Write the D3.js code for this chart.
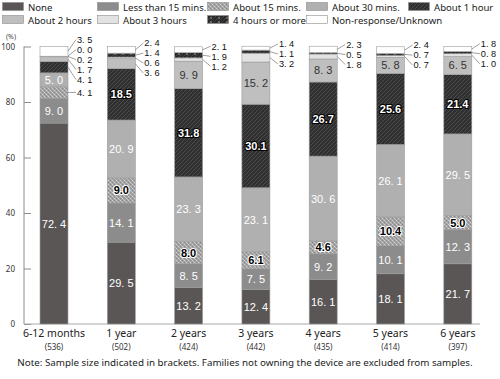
<!DOCTYPE html>
<html><head><meta charset="utf-8">
<script src="https://cdn.jsdelivr.net/npm/d3@7"></script>
<style>
html,body{margin:0;padding:0;background:#fff;}
svg{display:block;}
</style></head>
<body>
<svg id="chart" width="500" height="379"></svg>
<script>
const categories = ["6-12 months","1 year","2 years","3 years","4 years","5 years","6 years"];
const sampleSizes = ["536","502","424","442","435","414","397"];
const seriesNames = ["None","Less than 15 mins.","About 15 mins.","About 30 mins.","About 1 hour","About 2 hours","About 3 hours","4 hours or more","Non-response/Unknown"];
const noneVals   = [72.4,29.5,13.2,12.4,16.1,18.1,21.7];
const lt15Vals   = [9.0,14.1,8.5,7.5,9.2,10.1,12.3];
const m15Vals    = [4.1,9.0,8.0,6.1,4.6,10.4,5.0];
const m30Vals    = [5.0,20.9,23.3,23.1,30.6,26.1,29.5];
const h1Vals     = [4.1,18.5,31.8,30.1,26.7,25.6,21.4];
const h2Vals     = [1.7,3.6,9.9,15.2,8.3,5.8,6.5];
const h3Vals     = [0.2,0.6,1.2,3.2,1.8,0.7,1.0];
const h4Vals     = [0.0,1.4,1.9,1.1,0.5,0.7,0.8];
const nrVals     = [3.5,2.4,2.1,1.4,2.3,2.4,1.8];
const yTicks = [0,20,40,60,80,100];

const seriesVals = [noneVals,lt15Vals,m15Vals,m30Vals,h1Vals,h2Vals,h3Vals,h4Vals,nrVals];
const keys = seriesNames;
const rows = categories.map((c,i)=>{const r={cat:c}; keys.forEach((k,j)=>r[k]=seriesVals[j][i]); return r;});

const svg = d3.select("#chart");
const defs = svg.append("defs");

function pat(id,w,h,bg,draw){
  const p = defs.append("pattern").attr("id",id).attr("patternUnits","userSpaceOnUse").attr("width",w).attr("height",h);
  p.append("rect").attr("width",w).attr("height",h).attr("fill",bg);
  draw(p); return "url(#"+id+")";
}
const fDots = pat("dots",4,4,"#a2a2a2",p=>{
  [[0,0,"#d2d2d2"],[2,2,"#d2d2d2"],[2,0,"#8a8a8a"],[0,2,"#8a8a8a"],[1,1,"#bcbcbc"],[3,3,"#bcbcbc"]].forEach(([x,y,c])=>p.append("rect").attr("x",x).attr("y",y).attr("width",1).attr("height",1).attr("fill",c));
});
const fHatch = pat("hatch",4,4,"#303030",p=>{
  p.append("path").attr("d","M-1,1 L1,-1 M0,4 L4,0 M3,5 L5,3").attr("stroke","#525252").attr("stroke-width",0.8);
});
const f4h = pat("h4",8,4,"#2a2a2a",p=>{
  p.append("path").attr("d","M0,4 L4,0 M4,4 L8,0").attr("stroke","#444").attr("stroke-width",1);
  p.append("rect").attr("x",2).attr("y",1).attr("width",2).attr("height",2).attr("fill","#666");
});
const fills = ["#5a5656","#8c8c8c",fDots,"#b0b0b0",fHatch,"#bfbfbf","#e2e2e2",f4h,"#ffffff"];
const labelStyle = ["w","w","ob","w","ow","d","d","ow","d"];

const x = d3.scaleBand().domain(categories).range([20.35,491.45]).paddingInner(0.584).paddingOuter(0.292);
const y = d3.scaleLinear().domain([0,100]).range([324,46.5]);

const stack = d3.stack().keys(keys)(rows);

// axes
const yAxis = d3.axisRight(y).tickValues(yTicks).tickSize(7).tickFormat(d3.format("d"));
const gy = svg.append("g").attr("transform","translate(24,0)").call(yAxis);
gy.select(".domain").attr("stroke","#8c8c8c").attr("d","M0,"+y(100)+"V"+y(0));
gy.selectAll(".tick line").attr("stroke","#8c8c8c");
gy.selectAll(".tick text").attr("x",-9).attr("text-anchor","end").attr("font-family","Noto Sans, sans-serif").attr("font-size",8).attr("fill","#333");
svg.append("text").attr("x",11).attr("y",39).attr("text-anchor","middle").attr("font-family","Noto Sans, sans-serif").attr("font-size",7).attr("fill","#444").text("(%)");

const xAxis = d3.axisBottom(x).tickSize(0).tickPadding(6);
const gx = svg.append("g").attr("transform","translate(0,"+y(0)+")").call(xAxis);
gx.select(".domain").attr("stroke","#aaaaaa").attr("d","M24,0H480");
gx.selectAll(".tick text").attr("font-family","Noto Sans, sans-serif").attr("font-size",10.5).attr("fill","#222").attr("dy","0.71em");
gx.selectAll(".tick").append("text").attr("y",20).attr("dy","0.71em").attr("text-anchor","middle")
  .attr("font-family","Noto Sans, sans-serif").attr("font-size",8).attr("fill","#333")
  .text((d,i)=>"(" + sampleSizes[i] + ")");

// bars
const layers = svg.append("g").selectAll("g").data(stack).join("g")
  .attr("fill",(d,i)=>fills[i]);
layers.selectAll("rect").data(d=>d).join("rect")
  .attr("x",d=>x(d.data.cat)).attr("width",x.bandwidth())
  .attr("y",d=>y(d[1])).attr("height",d=>Math.max(0,y(d[0])-y(d[1])))
  .attr("stroke","#9c9c9c").attr("stroke-width",0.6);

const fmtSpace = v => v.toFixed(1).replace(".",". ");
const labG = svg.append("g");
const threshold = 4.5;

categories.forEach((cat,ci)=>{
  const cx = x(cat)+x.bandwidth()/2;
  const right = x(cat)+x.bandwidth();
  const outside = [];
  stack.forEach((layer,si)=>{
    const d = layer[ci];
    const v = seriesVals[si][ci];
    const cy = y((d[0]+d[1])/2);
    if (v < threshold) { outside.push({v,cy,si}); return; }
    const st = labelStyle[si];
    if (st==="ow" || st==="ob") {
      labG.append("text").attr("x",cx).attr("y",cy).attr("dy","0.36em").attr("text-anchor","middle")
        .attr("font-family","Liberation Sans, Arial, sans-serif").attr("font-weight","bold").attr("font-size",11)
        .attr("fill",st==="ow"?"#fff":"#000").attr("stroke",st==="ow"?"#000":"#fff").attr("stroke-width",2.2)
        .attr("paint-order","stroke").attr("stroke-linejoin","round").text(v.toFixed(1));
    } else {
      labG.append("text").attr("x",cx).attr("y",cy).attr("dy","0.36em").attr("text-anchor","middle")
        .attr("font-family","Liberation Sans, Arial, sans-serif").attr("font-size",11)
        .attr("fill",st==="w"?"#fff":"#333").text(fmtSpace(v));
    }
  });
  outside.sort((a,b)=>a.cy-b.cy);
  const sp = 10;
  let clusters = outside.map(o=>({items:[o],pos:o.cy}));
  let changed = true;
  while(changed){
    changed=false;
    for(let i=0;i<clusters.length-1;i++){
      const a=clusters[i], b=clusters[i+1];
      const aBottom = a.pos + (a.items.length-1)*sp/2;
      const bTop = b.pos - (b.items.length-1)*sp/2;
      if (bTop - aBottom < sp) {
        const items = a.items.concat(b.items);
        const mean = d3.mean(items,o=>o.cy)+1.5;
        clusters.splice(i,2,{items,pos:mean});
        changed=true; break;
      }
    }
  }
  clusters.forEach(c=>{
    c.items.forEach((o,k)=>{ o.ly = c.pos + (k-(c.items.length-1)/2)*sp; });
  });
  const lx = right+9;
  outside.forEach(o=>{
    labG.append("path").attr("d",`M${right},${o.cy}L${lx-1},${o.ly}`).attr("stroke","#777").attr("stroke-width",0.7).attr("fill","none");
    labG.append("text").attr("x",lx).attr("y",o.ly).attr("dy","0.36em").attr("text-anchor","start")
      .attr("font-family","Liberation Sans, Arial, sans-serif").attr("font-size",9.2)
      .attr("fill","#111").text(fmtSpace(o.v));
  });
});

// legend
const legendPos = [[2,2],[97,2],[207,2],[306,2],[408,2],[2,15],[97,15],[207,15],[306,15]];
const lg = svg.append("g");
seriesNames.forEach((n,i)=>{
  const [lx,ly] = legendPos[i];
  lg.append("rect").attr("x",lx+0.5).attr("y",ly+0.5).attr("width",21).attr("height",8).attr("fill",fills[i]).attr("stroke","#8c8c8c").attr("stroke-width",0.6);
  lg.append("text").attr("x",lx+26).attr("y",ly+8.5).attr("font-family","Noto Sans, sans-serif").attr("font-size",9.6).attr("fill","#222").text(n);
});

svg.append("text").attr("x",245).attr("y",365.5).attr("text-anchor","middle").attr("font-family","Noto Sans, sans-serif").attr("font-size",9.8).attr("fill","#222")
  .text("Note: Sample size indicated in brackets. Families not owning the device are excluded from samples.");
</script>
</body></html>
